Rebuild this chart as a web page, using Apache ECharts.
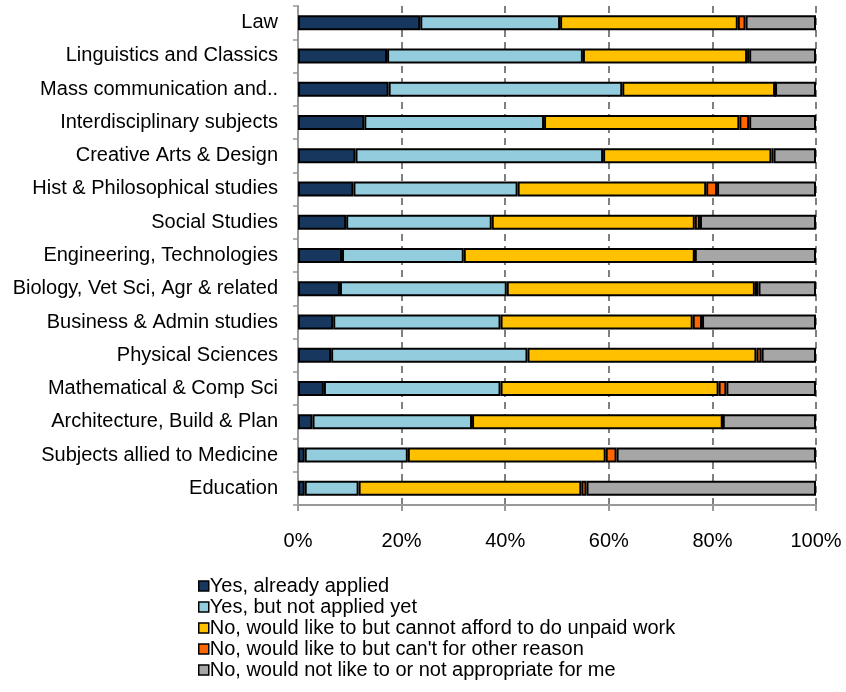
<!DOCTYPE html>
<html>
<head>
<meta charset="utf-8">
<script src="https://cdn.jsdelivr.net/npm/echarts@6/dist/echarts.min.js"></script>
<style>
  html, body { margin: 0; padding: 0; background: #fff; }
  #chart { width: 846px; height: 692px; }
</style>
</head>
<body>
<div id="chart"></div>
<script>
// subjects, top to bottom
var subjects = ['Law', 'Linguistics and Classics', 'Mass communication and..', 'Interdisciplinary subjects',
  'Creative Arts & Design', 'Hist & Philosophical studies', 'Social Studies', 'Engineering, Technologies',
  'Biology, Vet Sci, Agr & related', 'Business & Admin studies', 'Physical Sciences',
  'Mathematical & Comp Sci', 'Architecture, Build & Plan', 'Subjects allied to Medicine', 'Education'];

var seriesNames = ['Yes, already applied', 'Yes, but not applied yet',
  'No, would like to but cannot afford to do unpaid work',
  "No, would like to but can't for other reason",
  'No, would not like to or not appropriate for me'];

// percentages
var applied = [23.6, 17.2, 17.5, 12.8, 11.1, 10.7, 9.3, 8.5, 8.1, 6.8, 6.4, 5.0, 2.8, 1.3, 1.3];
var notYet = [27.0, 37.8, 45.1, 34.7, 47.8, 31.7, 28.1, 23.5, 32.2, 32.3, 37.9, 34.1, 30.8, 19.9, 10.4];
var cantAfford = [34.3, 31.7, 29.5, 37.7, 32.5, 36.4, 39.2, 44.6, 47.9, 37.1, 44.2, 42.1, 48.4, 38.2, 43.0];
var otherReason = [1.5, 0.4, 0, 1.9, 0.4, 2.1, 1.0, 0, 0.7, 1.8, 1.0, 1.5, 0, 2.1, 1.0];
var notLike = [13.6, 12.9, 7.9, 12.9, 8.2, 19.1, 22.4, 23.4, 11.1, 22.0, 10.5, 17.3, 18.0, 38.5, 44.3];

var colors = ['#17375E', '#93CDDD', '#FFC000', '#FF6600', '#A6A6A6'];
var values = [applied, notYet, cantAfford, otherReason, notLike];

var font = 'Liberation Sans, Arial, sans-serif';
var chart = echarts.init(document.getElementById('chart'));

var series = [];
for (var i = 0; i < values.length; i++) {
  series.push({
    name: seriesNames[i],
    type: 'bar',
    stack: 'all',
    barWidth: 15,
    data: values[i],
    itemStyle: { color: colors[i], borderColor: '#000', borderWidth: 2 }
  });
}

chart.setOption({
  animation: false,
  color: colors,
  grid: { left: 298, right: 30, top: 6, bottom: 187, containLabel: false },
  legend: {
    orient: 'vertical',
    left: 193,
    top: 571,
    itemWidth: 10,
    itemHeight: 10,
    itemGap: 1,
    icon: 'rect',
    data: seriesNames,
    itemStyle: { borderWidth: 1.5 },
    textStyle: { fontFamily: font, fontSize: 20, color: '#000', lineHeight: 20, padding: [0, 0, 0, -4] }
  },
  xAxis: {
    type: 'value',
    min: 0,
    max: 100,
    interval: 20,
    axisLine: { show: true, lineStyle: { color: '#999', width: 2 } },
    axisTick: { show: true, length: 6, lineStyle: { color: '#999', width: 2 } },
    axisLabel: { formatter: '{value}%', fontFamily: font, fontSize: 20, color: '#000', margin: 26 },
    splitLine: { show: true, lineStyle: { color: '#808080', width: 2, type: [7, 5] } }
  },
  yAxis: {
    type: 'category',
    inverse: true,
    data: subjects,
    axisLine: { show: true, lineStyle: { color: '#999', width: 2 } },
    axisTick: { show: true, length: 5, lineStyle: { color: '#999', width: 1.5 } },
    axisLabel: { fontFamily: font, fontSize: 20, color: '#000', margin: 20 },
    splitLine: { show: false }
  },
  series: series
});
</script>
</body>
</html>
